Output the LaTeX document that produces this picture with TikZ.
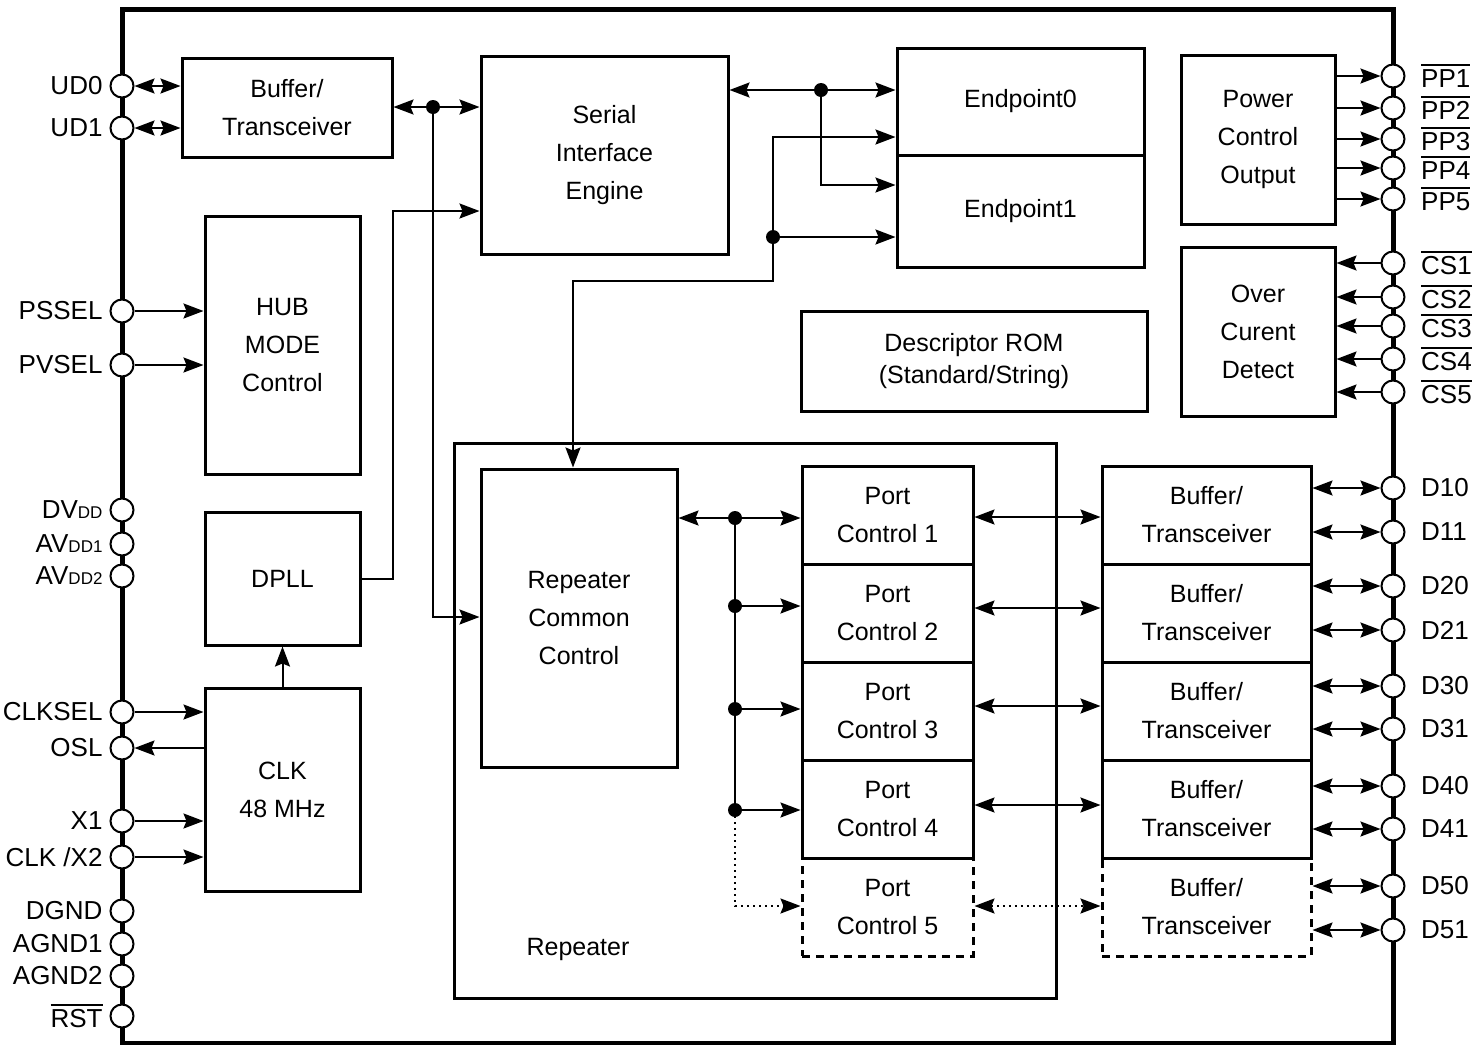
\documentclass[tikz,border=0pt]{standalone}
\usepackage{fontspec}
\setmainfont{Liberation Sans}
\usetikzlibrary{arrows.meta}
\newcommand{\ovl}[1]{\leavevmode\vbox{\hrule height 0.9pt\kern 2pt\hbox{#1}}}
\newcommand{\pinsub}[1]{{\fontsize{8.5}{8.5}\selectfont #1}}
\begin{document}
\begin{tikzpicture}[x=0.5pt,y=-0.5pt,
  font=\fontsize{12.5}{19}\selectfont,
  >={Stealth[length=10pt,width=7.5pt,inset=1.5pt]},
  line width=1pt,
  block/.style 2 args={draw,line width=1.5pt,align=center,inner sep=0pt,
    minimum width=#1*0.5pt,minimum height=#2*0.5pt},
  pin/.style={circle,draw,fill=white,line width=1pt,inner sep=0pt,minimum size=11.5pt},
  pinfont/.style={font=\fontsize{13}{15}\selectfont},
  dot/.style={circle,fill,inner sep=0pt,minimum size=7pt}]
  \useasboundingbox (0,0) rectangle (1480,1045);
  \draw[line width=2.5pt] (122,9.5) rectangle (1393,1043);
  \draw[line width=1.5pt] (454,443) rectangle (1056,998);
  \node (replbl) at (578,949) {Repeater};
  % pins
  \foreach \n/\y/\lbl in {ud0/86/UD0,ud1/128/UD1,pssel/311/PSSEL,pvsel/365/PVSEL,
      dvdd/510/DV\pinsub{DD},avdda/544/AV\pinsub{DD1},avddb/576/AV\pinsub{DD2},
      clksel/712/CLKSEL,osl/748/OSL,xa/821/X1,xb/857/{CLK /X2},
      dgnd/911/DGND,agnda/944/AGND1,agndb/976/AGND2,rst/1016/\ovl{RST}}
    \node[pin,label={[pinfont,inner sep=3pt]left:\lbl}] (\n) at (122,\y) {};
  \foreach \n/\y/\lbl in {pp1/76/\ovl{PP1},pp2/108/\ovl{PP2},pp3/139/\ovl{PP3},
      pp4/168/\ovl{PP4},pp5/199/\ovl{PP5},
      cs1/263/\ovl{CS1},cs2/297/\ovl{CS2},cs3/326/\ovl{CS3},cs4/359/\ovl{CS4},cs5/392/\ovl{CS5},
      d10/488/D10,d11/532/D11,d20/586/D20,d21/630/D21,d30/686/D30,
      d31/729/D31,d40/786/D40,d41/829/D41,d50/886/D50,d51/930/D51}
    \node[pin,label={[pinfont,label distance=4pt]right:\lbl}] (\n) at (1393,\y) {};
  % blocks
  \node[block={210}{99}] (buf0) at (287,107.5) {Buffer/\\Transceiver};
  \node[block={247}{198}] (sie) at (604.5,155) {Serial\\Interface\\Engine};
  \node[block={247}{107}] (ep0) at (1020.5,101.5) {Endpoint0};
  \node[block={247}{112}] (ep1) at (1020.5,211) {Endpoint1};
  \node[block={154}{169}] (pwr) at (1258,139.5) {Power\\Control\\Output};
  \node[block={154}{169}] (ocd) at (1258,331.5) {Over\\Curent\\Detect};
  \node[block={346}{100},font=\fontsize{12.5}{16}\selectfont] (rom) at (974,361)
    {Descriptor ROM\\(Standard/String)};
  \node[block={155}{258}] (hub) at (282.5,345) {HUB\\MODE\\Control};
  \node[block={155}{133}] (dpll) at (282.5,578.5) {DPLL};
  \node[block={155}{203}] (clk) at (282.5,789.5) {CLK\\48 MHz};
  \node[block={196}{298}] (rcc) at (579,618) {Repeater\\Common\\Control};
  \foreach \i/\y in {1/515,2/613,3/711,4/809} {
    \node[block={171}{98}] (pc\i) at (887.5,\y) {Port\\Control \i};
    \node[block={209}{98}] (bt\i) at (1206.5,\y) {Buffer/\\Transceiver};
  }
  \node[block={171}{98},dash pattern=on 4pt off 3pt] (pc5) at (887.5,907) {Port\\Control 5};
  \node[block={209}{98},dash pattern=on 4pt off 3pt] (bt5) at (1206.5,907) {Buffer/\\Transceiver};
  % pin connectors
  \draw[<->] (ud0) -- (ud0 -| buf0.west);
  \draw[<->] (ud1) -- (ud1 -| buf0.west);
  \draw[->] (pssel) -- (pssel -| hub.west);
  \draw[->] (pvsel) -- (pvsel -| hub.west);
  \draw[->] (clksel) -- (clksel -| clk.west);
  \draw[->] (clk.west |- osl) -- (osl);
  \draw[->] (xa) -- (xa -| clk.west);
  \draw[->] (xb) -- (xb -| clk.west);
  \draw[->] (clk.north) -- (dpll.south);
  \foreach \n in {pp1,pp2,pp3,pp4,pp5}
    \draw[->] (pwr.east |- \n) -- (\n);
  \foreach \n in {cs1,cs2,cs3,cs4,cs5}
    \draw[->] (\n) -- (ocd.east |- \n);
  \foreach \i in {1,...,5} {
    \draw[<->] (bt\i.east |- d\i0) -- (d\i0);
    \draw[<->] (bt\i.east |- d\i1) -- (d\i1);
  }
  % internal buses
  \node[dot] (j1) at (433,107) {};
  \draw[<->] (buf0.east |- j1) -- (sie.west |- j1);
  \draw[->] (j1.center) |- (rcc.west |- 0,617);
  \draw[->] (dpll.east) -| (393,211) -- (sie.west |- 0,211);
  \node[dot] (j2) at (821,90) {};
  \draw[<->] (sie.east |- j2) -- (ep0.west |- j2);
  \draw[->] (j2.center) |- (ep1.west |- 0,185);
  \node[dot] (j3) at (773,237) {};
  \draw[<->] (573,0 |- rcc.north) |- (773,281) |- (ep0.west |- 0,137);
  \draw[->] (j3.center) -- (ep1.west |- j3);
  \node[dot] (j4) at (735,518) {};
  \node[dot] (j5) at (735,606) {};
  \node[dot] (j6) at (735,709) {};
  \node[dot] (j7) at (735,810) {};
  \draw[<->] (rcc.east |- j4) -- (pc1.west |- j4);
  \draw (j4.center) -- (j7.center);
  \foreach \j/\p in {5/2,6/3,7/4}
    \draw[->] (j\j.center) -- (pc\p.west |- j\j);
  \draw[->,dotted] (j7.center) |- (pc5.west |- 0,906);
  \foreach \i/\y in {1/517,2/608,3/706,4/805}
    \draw[<->] (pc\i.east |- 0,\y) -- (bt\i.west |- 0,\y);
  \draw[<->,dotted] (pc5.east |- 0,906) -- (bt5.west |- 0,906);
\end{tikzpicture}
\end{document}
